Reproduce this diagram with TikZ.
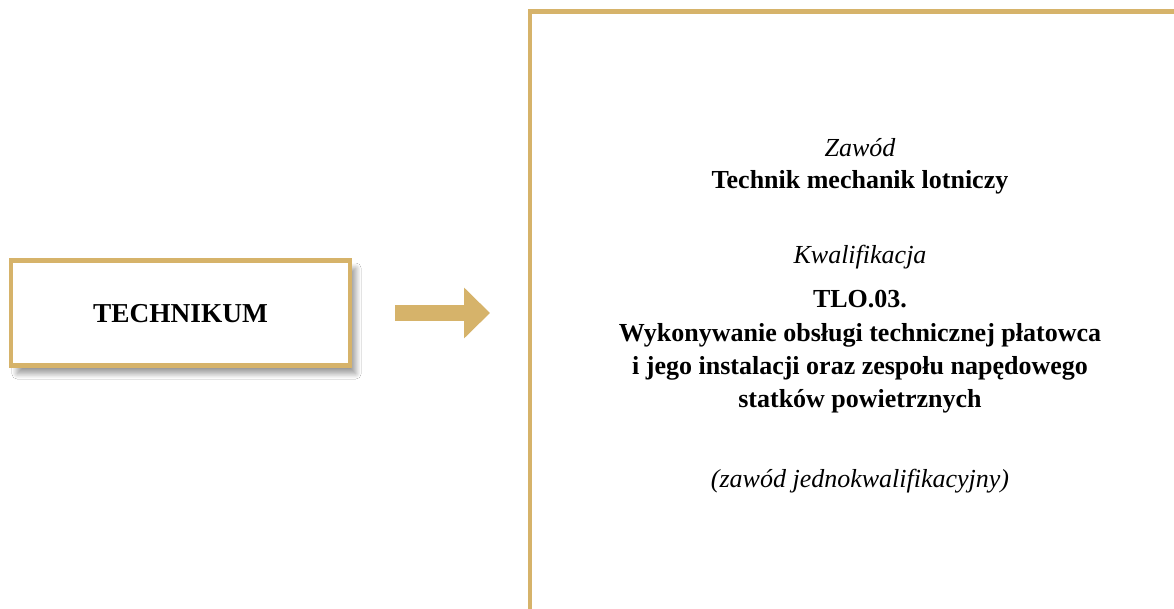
\documentclass[tikz,border=0pt]{standalone}
\usepackage{fontspec}
\setmainfont{Liberation Serif}
\usetikzlibrary{arrows.meta,shadows.blur}
\definecolor{zloty}{HTML}{D6B36A}
\tikzset{
	ramka/.style={draw=zloty, line width=3.4pt, fill=white},
	tekst/.style={anchor=base, align=center},
	pogrub/.style={tekst, font=\fontsize{19.5}{24}\selectfont\bfseries},
	kursywa/.style={tekst, font=\fontsize{19.5}{24}\selectfont\itshape},
}
\begin{document}
\begin{tikzpicture}[x=0.75pt, y=-0.75pt]
	% Rahmen des Bildes
	\useasboundingbox [fill=white] (0,0) rectangle (1174,609);
	% Kasten links
	\node [ramka, minimum width=254pt, minimum height=79pt, inner sep=0pt,
		blur shadow={shadow xshift=4.5pt, shadow yshift=-6pt, shadow blur radius=4pt, shadow blur steps=12, shadow opacity=40}]
		(technikum) at (180.5,313) {};
	\node [tekst, font=\fontsize{20.5}{24}\selectfont\bfseries] (technikumtxt) at (180.5,323) {TECHNIKUM};
	% Pfeil
	\coordinate (pfeilA) at (395,313);
	\coordinate (pfeilB) at (490,313);
	\draw [zloty, line width=12pt, -{Triangle[length=19.5pt, width=37pt]}] (pfeilA) -- (pfeilB);
	% Kasten rechts (offen nach rechts und unten)
	\coordinate (eckeU) at (530,609);
	\coordinate (eckeO) at (530,11.5);
	\coordinate (eckeR) at (1174,11.5);
	\draw [zloty, line width=3.4pt] (eckeU) -- (eckeO) -- (eckeR);
	% Texte
	\node [kursywa] (zawod) at (860,157) {Zawód};
	\node [pogrub] (nazwa) at (860,189) {Technik mechanik lotniczy};
	\node [kursywa] (kwal) at (860,264) {Kwalifikacja};
	\node [pogrub] (kod) at (860,308) {TLO.03.};
	\node [pogrub] (opis1) at (860,342) {Wykonywanie obsługi technicznej płatowca};
	\node [pogrub] (opis2) at (860,375) {i jego instalacji oraz zespołu napędowego};
	\node [pogrub] (opis3) at (860,407) {statków powietrznych};
	\node [kursywa] (uwaga) at (860,487) {(zawód jednokwalifikacyjny)};
\end{tikzpicture}
\end{document}
